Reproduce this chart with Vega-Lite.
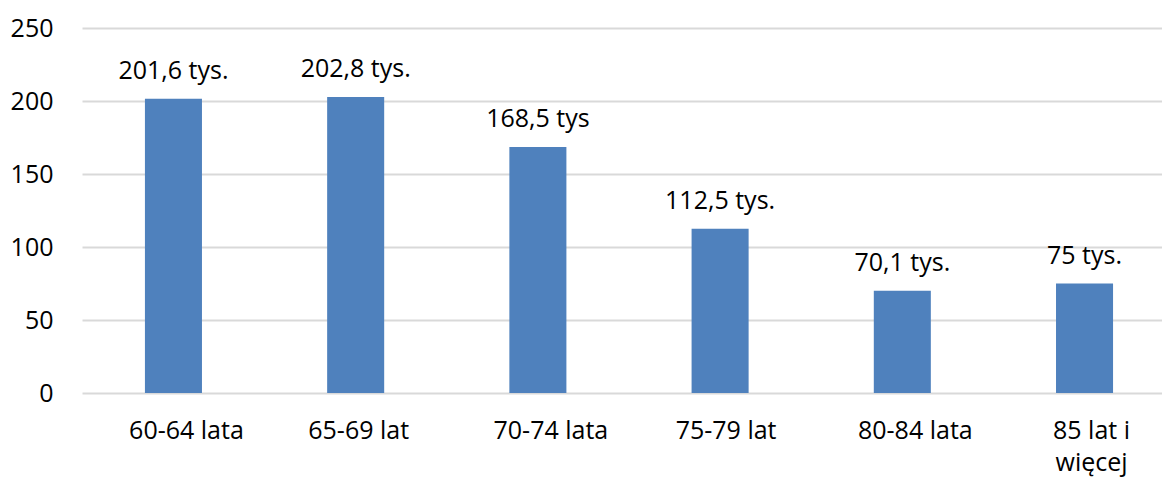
{
  "$schema": "https://vega.github.io/schema/vega-lite/v6.json",
  "width": 1080,
  "height": 365,
  "autosize": {"type": "none"},
  "padding": {"left": 82, "top": 28, "right": 0, "bottom": 86},
  "background": "white",
  "config": {
    "view": {"stroke": null},
    "font": "Open Sans",
    "axis": {"labelFont": "Open Sans", "labelColor": "#000000", "labelFontSize": 25}
  },
  "data": {
    "values": [
      {"grupa": "60-64 lata", "wartosc": 201.6, "etykieta": "201,6 tys."},
      {"grupa": "65-69 lat", "wartosc": 202.8, "etykieta": "202,8 tys."},
      {"grupa": "70-74 lata", "wartosc": 168.5, "etykieta": "168,5 tys"},
      {"grupa": "75-79 lat", "wartosc": 112.5, "etykieta": "112,5 tys."},
      {"grupa": "80-84 lata", "wartosc": 70.1, "etykieta": "70,1 tys."},
      {"grupa": "85 lat i więcej", "wartosc": 75, "etykieta": "75 tys."}
    ]
  },
  "encoding": {
    "x": {
      "field": "grupa",
      "type": "nominal",
      "sort": null,
      "scale": {"paddingInner": 0.687, "paddingOuter": 0.307, "align": 0.5625},
      "axis": {
        "title": null,
        "labelAngle": 0,
        "domain": false,
        "ticks": false,
        "labelPadding": 25,
        "labelLineHeight": 32,
        "labelBaseline": "top",
        "labelOffset": {
          "condition": [
            {"test": "datum.value == '65-69 lat'", "value": 3},
            {"test": "datum.value == '75-79 lat'", "value": 6},
            {"test": "datum.value == '85 lat i więcej'", "value": 7}
          ],
          "value": 13
        },
        "labelExpr": "datum.value == '85 lat i więcej' ? ['85 lat i', 'więcej'] : datum.value"
      }
    },
    "y": {
      "field": "wartosc",
      "type": "quantitative",
      "scale": {"domain": [0, 250], "nice": false},
      "axis": {
        "title": null,
        "values": [0, 50, 100, 150, 200, 250],
        "domain": false,
        "ticks": false,
        "labelPadding": 29,
        "grid": true,
        "gridColor": "#d9d9d9",
        "gridWidth": 2
      }
    }
  },
  "layer": [
    {"mark": {"type": "bar", "color": "#4f81bd"}},
    {
      "mark": {"type": "text", "baseline": "alphabetic", "dy": -20, "fontSize": 25, "color": "#000000", "font": "Open Sans"},
      "encoding": {"text": {"field": "etykieta"}}
    }
  ]
}
